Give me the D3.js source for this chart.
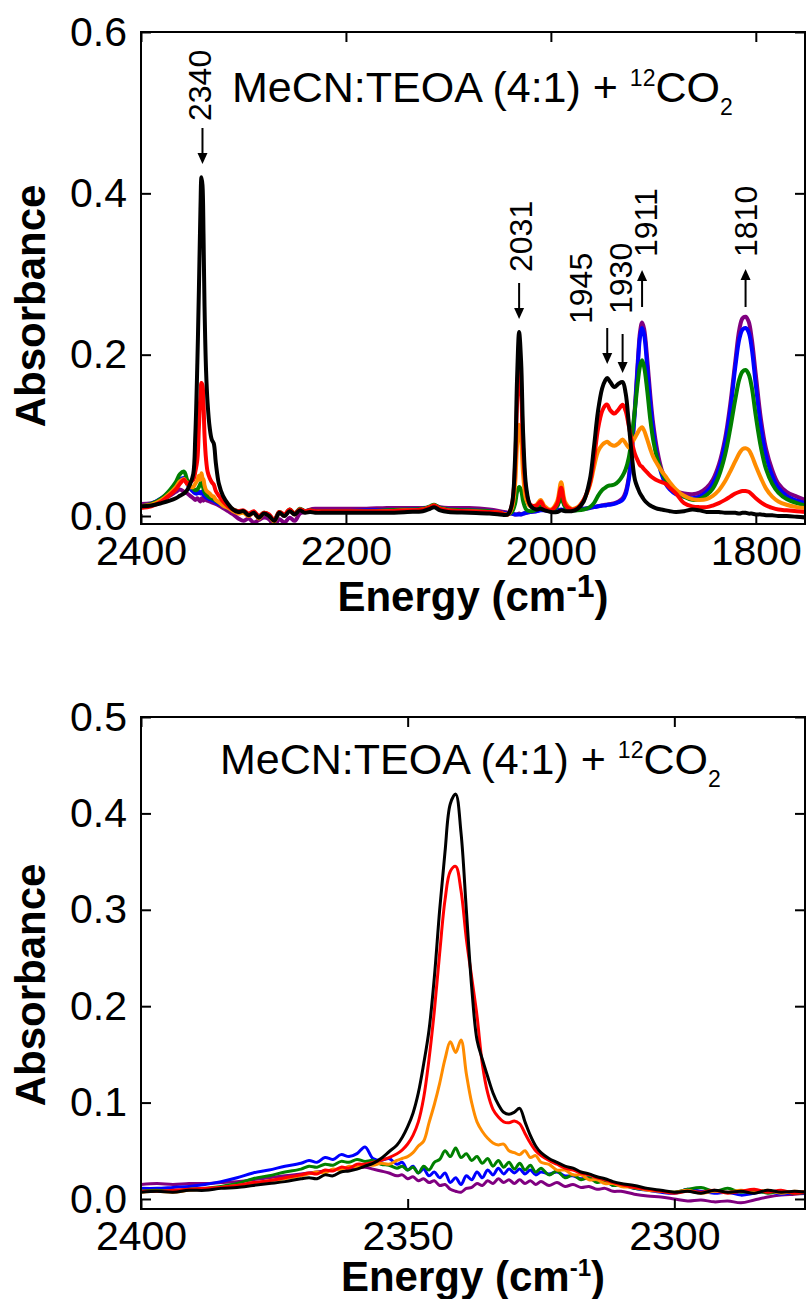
<!DOCTYPE html>
<html><head><meta charset="utf-8">
<script src="https://cdn.jsdelivr.net/npm/d3@7"></script>
<style>body{margin:0;background:#fff}</style>
</head><body><svg id="c" width="807" height="1299"></svg>
<script>
// ---------- DATA ----------
const seriesNames  = ["purple","blue","green","orange","red","black"];
const seriesColors = ["#800080","#0000ff","#008000","#ff8c00","#ff0000","#000000"];

const topWavenumber = [
2400,2390,2380,2372,2366,2362,2358,2355,2352,2349,
2347,2345,2343.5,2342,2341,2340,2339,2338,2336.5,2335,
2333,2331,2329,2327,2324,2320,2315,2310,2305,2300,
2295,2290,2285,2280,2275,2270,2265,2260,2255,2250,
2245,2240,2235,2230,2220,2200,2180,2160,2140,2125,
2118,2114,2108,2100,2080,2060,2050,2042,2038,2035,
2033,2031,2029,2027,2024,2020,2014,2010,2006,2000,
1994,1990,1986,1980,1974,1968,1962,1958,1954,1950,
1947,1945,1942,1938,1934,1930,1927,1924,1921,1918,
1915,1913,1911,1909,1906,1903,1900,1896,1892,1888,
1884,1878,1870,1862,1855,1848,1842,1836,1830,1825,
1820,1816,1813,1810,1807,1804,1800,1795,1790,1784,
1778,1770,1760,1752];

const topPurple = [
.015,.016,.02,.025,.03,.033,.03,.028,.025,.022,
.02,.022,.02,.018,.022,.02,.019,.022,.02,.019,
.018,.017,.016,.015,.013,.01,.006,.002,-.003,-.006,
-.003,-.008,-.005,-.002,-.004,-.012,-.004,-.008,-.002,-.006,
.003,.005,.008,.009,.009,.009,.009,.01,.01,.01,
.011,.013,.011,.01,.01,.008,.006,.004,.003,.002,
.002,.003,.002,.003,.004,.005,.006,.008,.007,.007,
.012,.028,.012,.008,.008,.009,.01,.011,.012,.013,
.014,.014,.015,.016,.018,.022,.03,.048,.085,.135,
.195,.228,.24,.232,.195,.15,.113,.08,.058,.045,
.037,.031,.028,.027,.029,.035,.045,.064,.096,.138,
.192,.232,.245,.247,.241,.22,.175,.12,.083,.057,
.04,.03,.024,.02];

const topBlue = [
.011,.015,.022,.03,.038,.045,.047,.04,.034,.03,
.028,.028,.03,.028,.03,.028,.026,.025,.023,.022,
.021,.02,.019,.017,.015,.013,.01,.007,.005,.005,
.001,.004,-.002,.003,.0,-.006,.004,.0,.007,.003,
.008,.006,.007,.006,.006,.006,.007,.007,.008,.009,
.011,.013,.01,.008,.007,.006,.004,.003,.003,.002,
.002,.002,.002,.003,.004,.005,.006,.007,.007,.007,
.007,.008,.007,.007,.008,.009,.01,.011,.012,.013,
.013,.014,.014,.015,.017,.02,.027,.045,.08,.13,
.19,.222,.233,.225,.185,.14,.105,.072,.052,.04,
.033,.027,.024,.022,.024,.03,.04,.058,.09,.13,
.185,.22,.231,.233,.228,.208,.162,.11,.075,.05,
.035,.025,.019,.016];

const topGreen = [
.012,.015,.022,.032,.042,.052,.055,.045,.038,.034,
.032,.033,.036,.04,.042,.038,.034,.03,.027,.025,
.023,.022,.021,.019,.017,.014,.011,.008,.006,.006,
.002,.005,-.001,.004,.001,-.005,.005,.001,.008,.003,
.009,.006,.007,.006,.006,.006,.006,.007,.008,.009,
.012,.014,.01,.008,.007,.006,.004,.002,.005,.015,
.03,.036,.032,.018,.008,.006,.008,.012,.008,.006,
.012,.022,.011,.007,.007,.008,.011,.016,.025,.032,
.035,.037,.038,.039,.043,.05,.058,.072,.098,.132,
.168,.186,.193,.185,.156,.12,.093,.07,.055,.045,
.038,.03,.024,.02,.021,.026,.034,.05,.076,.108,
.145,.17,.179,.181,.176,.16,.124,.085,.058,.04,
.029,.021,.016,.013];

const topOrange = [
.012,.014,.02,.028,.036,.043,.046,.04,.036,.036,
.04,.044,.05,.045,.053,.047,.045,.038,.032,.03,
.028,.025,.024,.02,.017,.013,.01,.006,.003,.004,
.0,.004,-.003,.003,.0,-.007,.004,.0,.007,.002,
.008,.005,.006,.005,.005,.005,.005,.006,.007,.008,
.011,.013,.009,.007,.006,.005,.004,.002,.01,.038,
.088,.113,.095,.05,.02,.012,.014,.02,.012,.008,
.018,.042,.017,.009,.011,.02,.038,.06,.08,.088,
.091,.092,.089,.087,.09,.095,.09,.085,.09,.097,
.104,.108,.11,.106,.095,.083,.073,.064,.056,.049,
.042,.033,.025,.021,.02,.021,.025,.032,.043,.055,
.068,.078,.083,.084,.082,.075,.062,.047,.034,.024,
.018,.014,.011,.01];

const topRed = [
.01,.012,.018,.026,.033,.04,.045,.04,.042,.045,
.055,.07,.11,.15,.165,.162,.14,.1,.07,.055,
.047,.042,.039,.031,.025,.018,.012,.008,.006,.007,
.003,.006,.0,.004,.002,-.005,.005,.002,.008,.003,
.008,.006,.007,.006,.006,.006,.006,.006,.007,.008,
.011,.013,.009,.007,.006,.005,.004,.002,.014,.06,
.14,.185,.155,.08,.03,.014,.013,.018,.01,.007,
.015,.035,.014,.008,.01,.02,.04,.07,.108,.13,
.137,.138,.131,.127,.132,.138,.13,.112,.092,.077,
.068,.063,.061,.058,.054,.05,.047,.044,.042,.04,
.035,.028,.016,.012,.011,.011,.013,.016,.02,.024,
.028,.03,.031,.031,.03,.027,.022,.017,.013,.01,
.008,.007,.006,.005];

const topBlack = [
.012,.013,.016,.019,.022,.025,.028,.032,.04,.052,
.1,.19,.28,.38,.42,.41,.35,.26,.18,.14,
.11,.095,.09,.066,.04,.025,.015,.008,.005,.006,
.001,.004,-.002,.003,.0,-.006,.004,.0,.006,.002,
.007,.004,.005,.004,.004,.004,.004,.004,.005,.006,
.009,.011,.007,.005,.004,.003,.002,.002,.015,.07,
.17,.228,.19,.1,.035,.013,.008,.009,.007,.005,
.005,.007,.006,.006,.009,.018,.045,.085,.13,.158,
.168,.171,.166,.16,.164,.166,.152,.115,.075,.045,
.034,.028,.024,.02,.016,.013,.011,.009,.008,.007,
.006,.005,.006,.008,.007,.005,.005,.005,.004,.004,
.004,.003,.004,.004,.003,.003,.002,.002,.001,.001,
.0,.0,-.001,-.002];

const bottomWavenumber = [
2400,2397,2394,2391,2388,2385,2382,2379,2376,2373,
2370,2368.5,2367,2365.5,2364,2362.5,2361,2359.5,2358,2356.5,
2355,2353.5,2352,2351,2350,2349,2348,2347,2346,2345,
2344,2343,2342,2341,2340,2339,2338,2337,2336,2335,
2334,2333,2332,2331,2330,2329,2328,2327,2326,2325,
2323.5,2322,2320.5,2319,2317.5,2316,2314.5,2313,2311.5,2310,
2307.5,2305,2302.5,2300,2297.5,2295,2292.5,2290,2287.5,2285,
2282.5,2280,2277.5,2275];

const bottomPurple = [
.015,.016,.015,.016,.016,.017,.018,.02,.022,.024,
.026,.027,.028,.029,.03,.031,.032,.032,.033,.031,
.029,.027,.024,.025,.021,.023,.019,.021,.017,.019,
.014,.015,.01,.008,.007,.011,.012,.016,.014,.019,
.016,.021,.017,.02,.016,.02,.016,.019,.015,.018,
.014,.017,.013,.015,.012,.013,.01,.011,.008,.008,
.005,.003,.002,.0,-.002,-.001,-.003,-.002,-.004,-.001,
.002,.004,.005,.006];

const bottomBlue = [
.011,.011,.012,.013,.015,.018,.022,.027,.03,.034,
.037,.04,.038,.043,.041,.046,.044,.047,.054,.042,
.04,.042,.036,.038,.03,.034,.027,.031,.024,.028,
.022,.027,.017,.022,.015,.024,.02,.028,.022,.03,
.025,.032,.026,.031,.027,.031,.026,.03,.025,.028,
.026,.028,.024,.024,.021,.022,.018,.019,.014,.015,
.011,.009,.007,.006,.01,.008,.006,.007,.004,.006,
.008,.005,.007,.006];

const bottomGreen = [
.008,.009,.008,.01,.011,.013,.016,.021,.024,.028,
.031,.034,.033,.036,.035,.039,.038,.041,.039,.04,
.036,.035,.032,.034,.03,.033,.027,.034,.03,.038,
.041,.05,.044,.053,.043,.047,.04,.044,.037,.042,
.034,.04,.033,.038,.031,.037,.03,.035,.028,.032,
.025,.029,.022,.025,.02,.022,.017,.019,.014,.015,
.011,.01,.008,.007,.01,.012,.008,.011,.007,.009,
.006,.008,.006,.007];

const bottomOrange = [
.007,.008,.007,.009,.01,.012,.014,.016,.019,.021,
.024,.026,.028,.027,.031,.03,.034,.033,.036,.035,
.037,.036,.04,.042,.044,.048,.055,.06,.079,.098,
.12,.145,.163,.152,.165,.13,.1,.08,.07,.063,
.058,.056,.057,.05,.048,.046,.05,.043,.045,.038,
.036,.03,.03,.025,.025,.02,.02,.016,.016,.013,
.012,.009,.008,.007,.009,.006,.008,.007,.009,.007,
.009,.006,.008,.007];

const bottomRed = [
.008,.008,.009,.01,.011,.012,.014,.017,.019,.022,
.025,.027,.026,.03,.029,.033,.032,.036,.036,.038,
.04,.043,.047,.051,.057,.066,.08,.105,.145,.195,
.255,.31,.34,.345,.32,.27,.23,.19,.14,.11,
.093,.085,.08,.079,.081,.078,.068,.058,.05,.045,
.04,.036,.032,.03,.027,.025,.022,.02,.017,.015,
.012,.01,.008,.006,.008,.007,.009,.006,.008,.01,
.007,.009,.006,.008];

const bottomBlack = [
.007,.008,.007,.009,.009,.011,.012,.014,.016,.018,
.021,.022,.021,.025,.024,.028,.029,.031,.034,.037,
.042,.049,.056,.064,.075,.089,.11,.14,.175,.23,
.3,.36,.41,.42,.38,.3,.22,.165,.145,.127,
.11,.098,.09,.088,.09,.094,.08,.066,.055,.048,
.042,.038,.034,.032,.028,.026,.023,.021,.018,.016,
.014,.011,.009,.007,.008,.006,.009,.007,.008,.006,
.009,.007,.008,.007];

const topXTicks = [2400, 2200, 2000, 1800];
const topYTicks = [0, 0.2, 0.4, 0.6];
const bottomXTicks = [2400, 2350, 2300];
const bottomYTicks = [0, 0.1, 0.2, 0.3, 0.4, 0.5];

const annotationValues = [2340, 2031, 1945, 1930, 1911, 1810];
const annotationDirs   = ["down","down","down","down","up","up"];

// ---------- LAYOUT ----------
const svg = d3.select("#c");
const FONT = "'Liberation Sans', Arial, Helvetica, sans-serif";
const L = 141, R = 805;

function panel(opts) {
  const x = d3.scaleLinear().domain(opts.xDomain).range([L, R]);
  const y = d3.scaleLinear().domain(opts.yDomain).range([opts.bottom, opts.top]);
  const g = svg.append("g");
  const clipId = "clip" + opts.id;
  svg.append("clipPath").attr("id", clipId).append("rect")
    .attr("x", L).attr("y", opts.top).attr("width", R - L).attr("height", opts.bottom - opts.top);

  const line = d3.line().x(d => x(d[0])).y(d => y(d[1])).curve(d3.curveCatmullRom.alpha(0.5));
  const lg = g.append("g").attr("clip-path", `url(#${clipId})`);
  opts.series.forEach((vals, i) => {
    const n = Math.min(vals.length, opts.xs.length);
    const pts = d3.range(n).map(k => [opts.xs[k], vals[k]]);
    lg.append("path").datum(pts).attr("d", line)
      .attr("fill", "none").attr("stroke", seriesColors[i])
      .attr("stroke-width", opts.lw).attr("stroke-linejoin", "round").attr("stroke-linecap", "round");
  });

  const fmtY = d3.format(".1f");
  const ax = [
    g.append("g").attr("transform", `translate(0,${opts.bottom})`)
      .call(d3.axisBottom(x).tickValues(opts.xTicks).tickSizeInner(-10).tickSizeOuter(0).tickPadding(12).tickFormat(d3.format("d"))),
    g.append("g").attr("transform", `translate(0,${opts.top})`)
      .call(d3.axisTop(x).tickValues(opts.xTicks).tickSizeInner(-10).tickSizeOuter(0).tickFormat("")),
    g.append("g").attr("transform", `translate(${L},0)`)
      .call(d3.axisLeft(y).tickValues(opts.yTicks).tickSizeInner(-10).tickSizeOuter(0).tickPadding(14).tickFormat(fmtY)),
    g.append("g").attr("transform", `translate(${R},0)`)
      .call(d3.axisRight(y).tickValues(opts.yTicks).tickSizeInner(-10).tickSizeOuter(0).tickFormat(""))
  ];
  ax.forEach(a => {
    a.select(".domain").remove();
    a.selectAll(".tick line").attr("stroke", "#000").attr("stroke-width", 2);
    a.selectAll(".tick text").attr("font-size", 41).attr("font-family", FONT).attr("fill", "#000");
  });
  g.append("rect").attr("x", L).attr("y", opts.top).attr("width", R - L).attr("height", opts.bottom - opts.top)
    .attr("fill", "none").attr("stroke", "#000").attr("stroke-width", 2);

  const t = g.append("text").attr("x", opts.titleX).attr("y", opts.titleY)
    .attr("font-family", FONT).attr("font-size", 43).attr("fill", "#000");
  t.append("tspan").text("MeCN:TEOA (4:1) + ");
  t.append("tspan").text("12").attr("font-size", 23).attr("dy", -16);
  t.append("tspan").text("CO").attr("dy", 16);
  t.append("tspan").text("2").attr("font-size", 23).attr("dy", 13);

  g.append("text").attr("transform", `translate(30,${opts.yLabelY}) rotate(-90)`)
    .attr("text-anchor", "middle").attr("dy", "0.35em")
    .attr("font-family", FONT).attr("font-weight", "bold").attr("font-size", 42).text("Absorbance");

  const xl = g.append("text").attr("x", (L + R) / 2).attr("y", opts.xLabelY)
    .attr("text-anchor", "middle").attr("font-family", FONT).attr("font-weight", "bold").attr("font-size", 42);
  xl.append("tspan").text("Energy (cm");
  xl.append("tspan").text("-1").attr("font-size", opts.supSize).attr("dy", -opts.supShift);
  xl.append("tspan").text(")").attr("dy", opts.supShift);
  return {x, y, g};
}

const topP = panel({
  id: "t", top: 32, bottom: 524, xDomain: [2400, 1752], yDomain: [-0.0099, 0.6],
  xs: topWavenumber, series: [topPurple, topBlue, topGreen, topOrange, topRed, topBlack],
  xTicks: topXTicks, yTicks: topYTicks, lw: 4,
  titleX: 232, titleY: 102, yLabelY: 306, xLabelY: 611, supSize: 32, supShift: 14
});

const botP = panel({
  id: "b", top: 717, bottom: 1209, xDomain: [2400, 2275.5], yDomain: [-0.0104, 0.5],
  xs: bottomWavenumber, series: [bottomPurple, bottomBlue, bottomGreen, bottomOrange, bottomRed, bottomBlack],
  xTicks: bottomXTicks, yTicks: bottomYTicks, lw: 3,
  titleX: 220, titleY: 774, yLabelY: 985, xLabelY: 1291, supSize: 24, supShift: 15
});

// ---------- annotations (top panel) ----------
const annLayout = [
  {dx: -3, lb: 121, y1: 128, y2: 164},
  {dx: 1,  lb: 272, y1: 283, y2: 319},
  {dx: -27, lb: 324, y1: 328, y2: 364},
  {dx: -2, lb: 314, y1: 334, y2: 373},
  {dx: 3,  lb: 257, y1: 307, y2: 270},
  {dx: 0,  lb: 257, y1: 307, y2: 269}
];
const ag = svg.append("g");
annotationValues.forEach((v, i) => {
  const xa = topP.x(v), lay = annLayout[i];
  ag.append("text").attr("transform", `translate(${xa + lay.dx},${lay.lb}) rotate(-90)`)
    .attr("dy", "0.36em").attr("font-family", FONT).attr("font-size", 32).text(String(v));
  const dir = annotationDirs[i] === "down" ? 1 : -1;
  const headLen = 11, headW = 5;
  ag.append("line").attr("x1", xa).attr("x2", xa).attr("y1", lay.y1).attr("y2", lay.y2 - dir * headLen)
    .attr("stroke", "#000").attr("stroke-width", 2);
  ag.append("path").attr("d",
    `M${xa},${lay.y2} L${xa - headW},${lay.y2 - dir * headLen} L${xa + headW},${lay.y2 - dir * headLen} Z`)
    .attr("fill", "#000");
});
</script></body></html>
